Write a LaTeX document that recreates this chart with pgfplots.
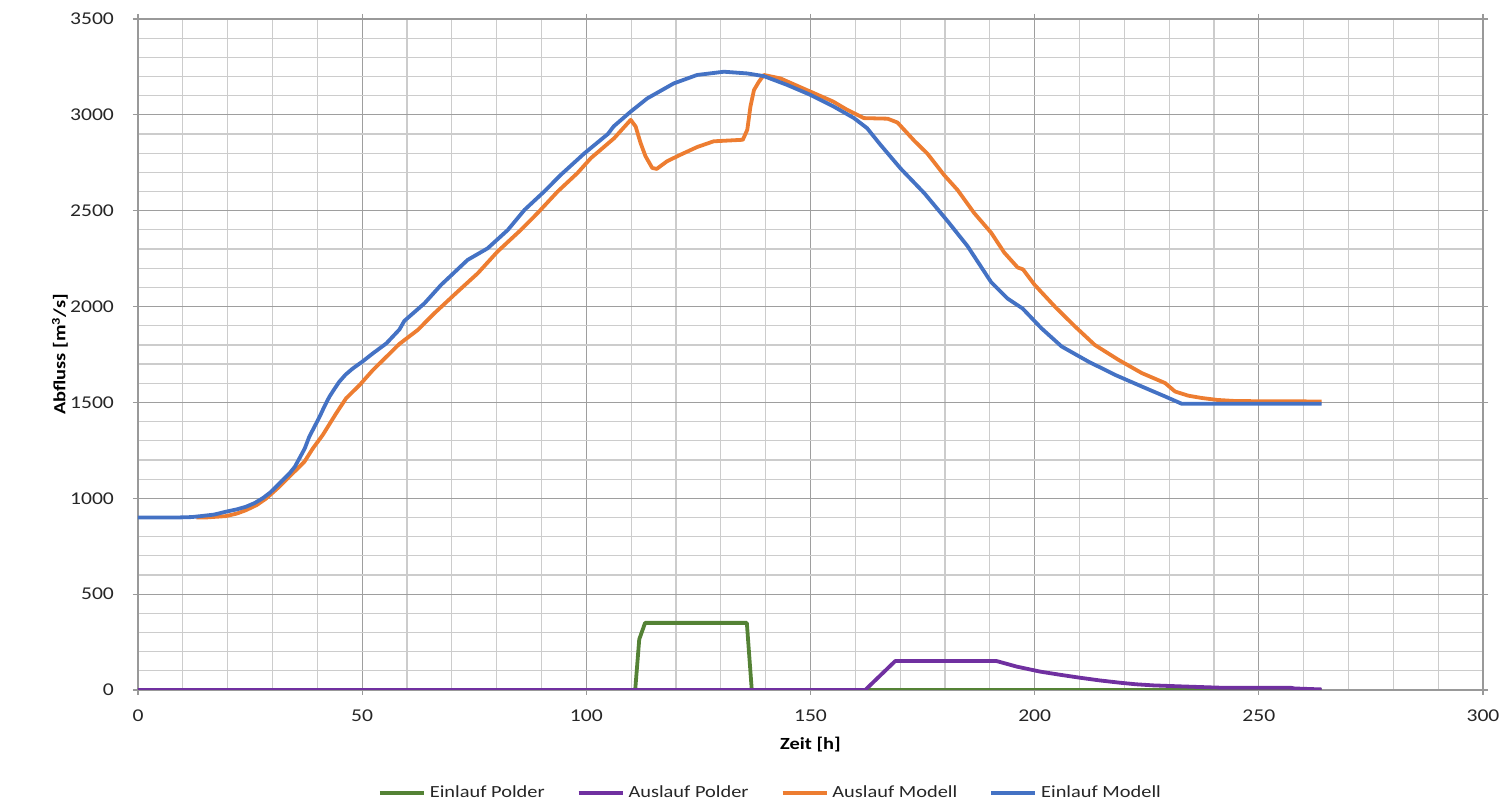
\documentclass[border=0pt]{standalone}
\usepackage{fontspec}
\setmainfont{Carlito}[FakeStretch=1.2]
\usepackage{pgfplots}
\pgfplotsset{compat=1.18}
\definecolor{cgreen}{HTML}{548235}
\definecolor{cpurple}{HTML}{7030A0}
\definecolor{corange}{HTML}{ED7D31}
\definecolor{cblue}{HTML}{4472C4}
\begin{document}
\begin{tikzpicture}
\useasboundingbox (-69pt,-58.5pt) rectangle (685pt,345pt);
\begin{axis}[
 scale only axis, width=672.5pt, height=335.5pt,
 xmin=0,xmax=300,ymin=0,ymax=3500,
 xtick={0,50,...,300}, ytick={0,500,...,3500},
 minor tick num=4,
 grid=both,
 major grid style={draw=black!38, line width=0.6pt},
 minor grid style={draw=black!20, line width=0.6pt},
 axis line style={draw=black!40, line width=0.6pt},
 tick align=outside, major tick length=2.5pt, minor tick length=0pt,
 tick style={draw=black!40, line width=0.6pt},
 /pgf/number format/assume math mode=true,
 /pgf/number format/set thousands separator={},
 tick label style={font=\fontsize{9}{10}\selectfont, text=black!85},
 y tick label style={xshift=-6pt},
 x tick label style={yshift=-4pt},
 xlabel={Zeit [h]},
 ylabel={Abfluss [m\textsuperscript{3}/s]},
 xlabel style={font=\bfseries\fontsize{8.5}{10}\selectfont, at={(axis description cs:0.5,-0.082)}, anchor=center},
 ylabel style={font=\bfseries\fontsize{8.5}{10}\selectfont, at={(axis description cs:-0.058,0.5)}, anchor=center},
 legend columns=4,
 legend style={draw=none, fill=none, at={(0.471,-0.1535)}, anchor=center,
   font=\fontsize{8.5}{10}\selectfont, text=black!85,
   /tikz/every even column/.append style={column sep=14pt}},
 legend image code/.code={\draw[#1] (0pt,0pt) -- (22pt,0pt);},
 every axis plot/.append style={line width=1.9pt, line join=round},
]
\addplot[cgreen] coordinates {(0,0) (110.9,0) (111.8,264) (113.1,350) (135.8,350) (136.9,0) (264,0)};
\addlegendentry{Einlauf Polder}
\addplot[cpurple] coordinates {(0,0) (162.2,0) (168.9,151) (191.5,151) (196,122) (201.2,96) (205.5,80) (210.1,64) (214.5,50) (219,38) (222.5,30) (226.5,24) (232.4,19) (241.4,12) (257,12) (258,8) (264,3)};
\addlegendentry{Auslauf Polder}
\addplot[corange] coordinates {(13,900) (15.2,900) (19.6,907) (22,920) (24.1,938) (26.5,965) (28.6,999) (31.5,1060) (34.5,1130) (37.1,1190) (39,1260) (41.2,1330) (44.2,1443) (46.4,1521) (49.4,1590) (52.4,1669) (55.4,1738) (58.3,1805) (62.4,1878) (66.1,1965) (71.3,2078) (75.8,2174) (80.2,2287) (85.4,2400) (89.1,2487) (93.6,2600) (98,2696) (101,2774) (106.2,2878) (109.9,2974) (111,2939) (112.1,2853) (113.2,2784) (114.7,2723) (115.7,2718) (118,2758) (121,2792) (124.7,2832) (128.4,2862) (134.9,2870) (135.9,2922) (136.6,3043) (137.4,3130) (138.5,3173) (139.6,3208) (143.3,3190) (150,3121) (155,3070) (158.2,3026) (161.9,2983) (167.2,2980) (169.4,2960) (173.1,2866) (176.1,2797) (179.8,2686) (182.8,2608) (186.5,2488) (190.3,2385) (193.2,2282) (196.2,2204) (197.4,2194) (200,2113) (204.5,2000) (209,1896) (213.4,1800) (218.7,1722) (223.9,1653) (229.1,1601) (231.3,1557) (234.3,1535) (237.3,1523) (240.7,1513) (245,1507) (264,1505)};
\addlegendentry{Auslauf Modell}
\addplot[cblue] coordinates {(0,900) (9,900) (12,902) (14,907) (17,915) (19.6,930) (22,942) (24.1,956) (26,975) (27.8,1000) (29.5,1030) (30.8,1060) (32.3,1095) (33.8,1130) (35,1165) (36,1208) (37.2,1260) (38.2,1321) (39.4,1375) (40.5,1425) (41.6,1480) (42.7,1530) (43.8,1570) (44.9,1608) (46.3,1645) (47.9,1677) (50,1712) (52.4,1756) (55.4,1808) (58.3,1880) (59.4,1925) (63.9,2017) (67.6,2113) (73.5,2243) (78,2304) (82.5,2400) (86.2,2504) (90.6,2600) (94.3,2687) (99.6,2800) (104.8,2900) (106.1,2940) (109.9,3017) (113.6,3086) (119.5,3164) (124.7,3208) (130.7,3225) (135.9,3216) (139.6,3202) (144.8,3156) (150,3104) (155.2,3043) (159.7,2983) (162.6,2931) (165.6,2844) (170.1,2720) (175.4,2591) (180.6,2445) (185,2316) (190.3,2127) (194,2041) (197.3,1990) (201.5,1887) (206,1792) (211.9,1714) (217.9,1644) (223.9,1583) (229.1,1531) (232.8,1493) (264,1493)};
\addlegendentry{Einlauf Modell}
\end{axis}
\end{tikzpicture}
\end{document}
